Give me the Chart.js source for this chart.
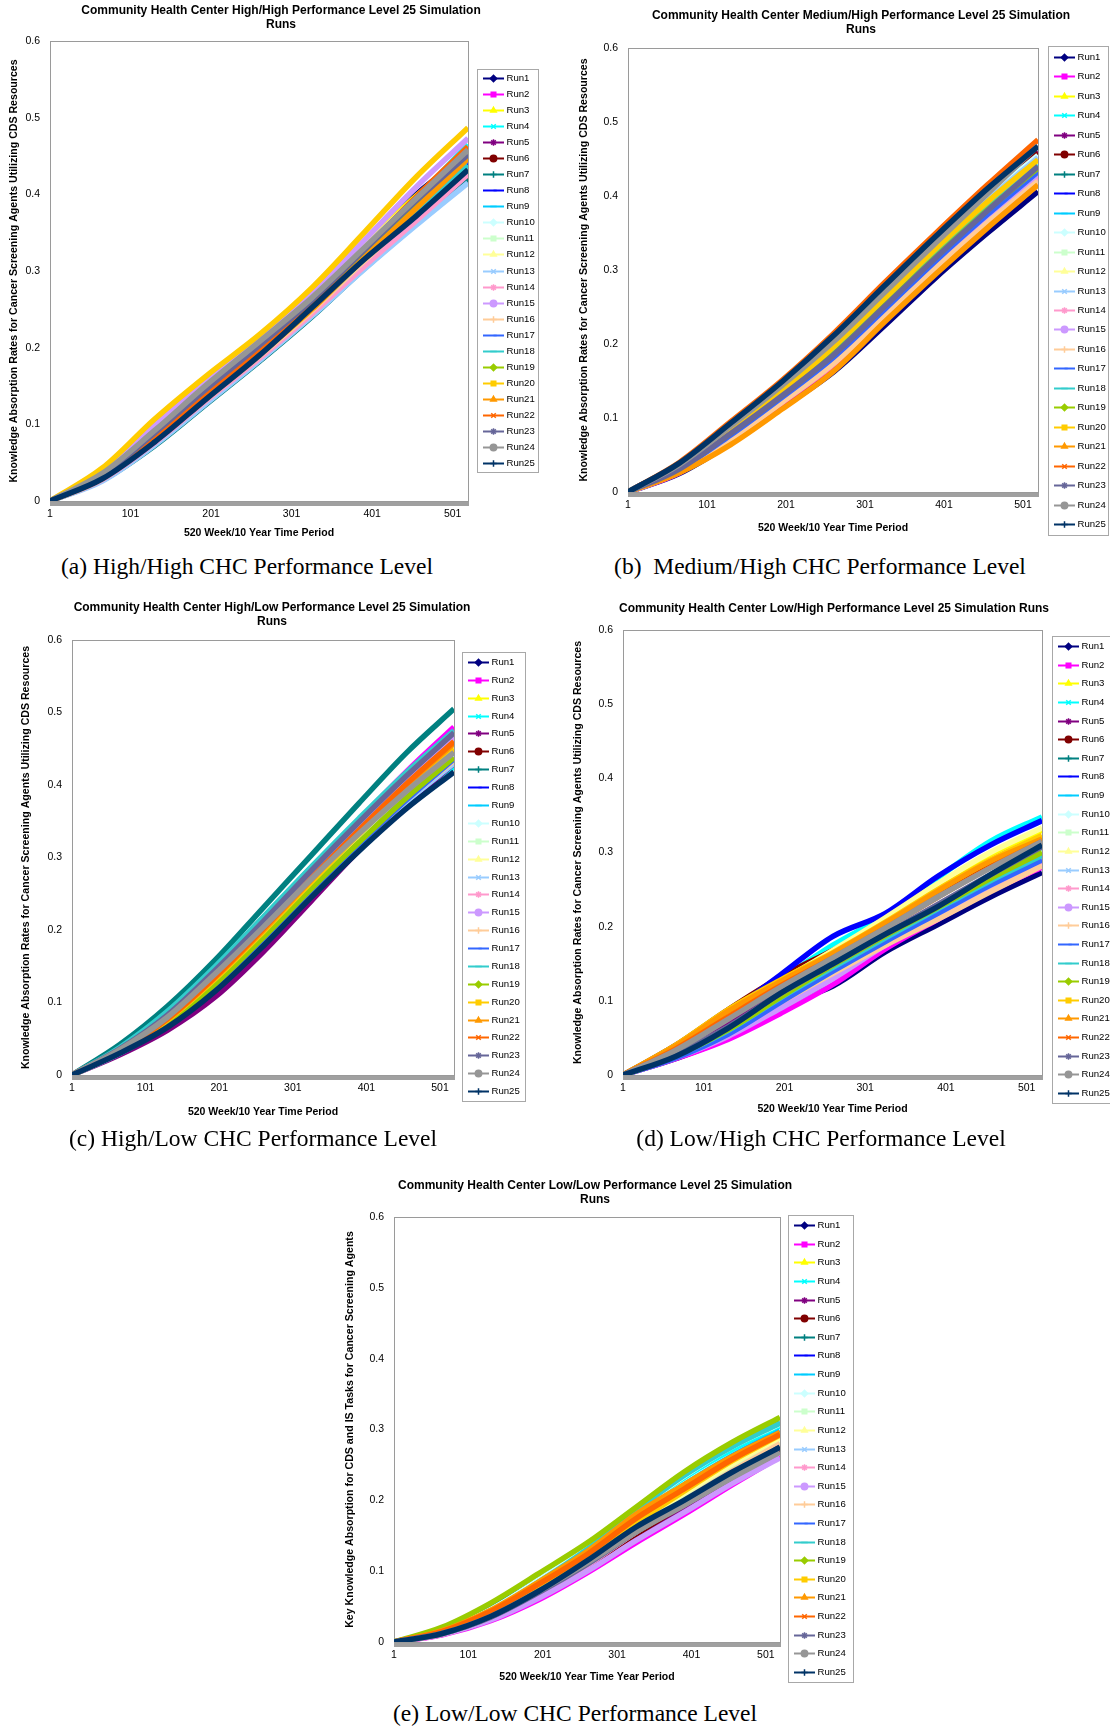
<!DOCTYPE html>
<html>
<head>
<meta charset="utf-8">
<script src="https://cdn.jsdelivr.net/npm/chart.js@4.4.0/dist/chart.umd.min.js"></script>
<style>
  body { margin: 0; background: #fff; }
  #page { position: relative; width: 1110px; height: 1726px; overflow: hidden; background: #fff; }
  canvas { position: absolute; }
  .caption { position: absolute; font-family: "Liberation Serif", "Times New Roman", serif; font-size: 23.5px; color: #000; white-space: pre; transform: translate(-50%, -50%); }
</style>
</head>
<body>
<div id="page">
  <canvas id="chartA" width="550" height="548" style="left:0px;top:0px"></canvas>
  <canvas id="chartB" width="555" height="548" style="left:555px;top:0px"></canvas>
  <canvas id="chartC" width="550" height="530" style="left:0px;top:598px"></canvas>
  <canvas id="chartD" width="555" height="530" style="left:555px;top:598px"></canvas>
  <canvas id="chartE" width="540" height="510" style="left:330px;top:1178px"></canvas>
  <div class="caption" style="left:247px;top:566px">(a) High/High CHC Performance Level</div>
  <div class="caption" style="left:820px;top:566px">(b)  Medium/High CHC Performance Level</div>
  <div class="caption" style="left:253px;top:1138px">(c) High/Low CHC Performance Level</div>
  <div class="caption" style="left:821px;top:1138px">(d) Low/High CHC Performance Level</div>
  <div class="caption" style="left:575px;top:1713px">(e) Low/Low CHC Performance Level</div>
</div>
<script>
const weeks = [1, 66, 131, 196, 261, 326, 391, 456, 520];

const runLabels = ['Run1', 'Run2', 'Run3', 'Run4', 'Run5', 'Run6', 'Run7', 'Run8', 'Run9', 'Run10',
    'Run11', 'Run12', 'Run13', 'Run14', 'Run15', 'Run16', 'Run17', 'Run18', 'Run19', 'Run20',
    'Run21', 'Run22', 'Run23', 'Run24', 'Run25'];

const runColors = ['#000080', '#FF00FF', '#FFFF00', '#00FFFF', '#800080', '#800000', '#008080', '#0000FF',
    '#00CCFF', '#CCFFFF', '#CCFFCC', '#FFFF99', '#99CCFF', '#FF99CC', '#CC99FF', '#FFCC99', '#3366FF',
    '#33CCCC', '#99CC00', '#FFCC00', '#FF9900', '#FF6600', '#666699', '#969696', '#003366'];

const runMarkers = ['rectRot', 'rect', 'triangle', 'crossRot', 'star', 'circle', 'cross', 'dash', 'line',
    'rectRot', 'rect', 'triangle', 'crossRot', 'star', 'circle', 'cross', 'dash', 'line',
    'rectRot', 'rect', 'triangle', 'crossRot', 'star', 'circle', 'cross'];

const xTickLabels = [1, 101, 201, 301, 401, 501];

// (a) High/High
const highHigh = [
    [0, 0.034, 0.088, 0.145, 0.202, 0.262, 0.330, 0.400, 0.452],
    [0, 0.030, 0.079, 0.133, 0.188, 0.247, 0.312, 0.372, 0.428],
    [0, 0.038, 0.097, 0.157, 0.212, 0.270, 0.335, 0.398, 0.455],
    [0, 0.036, 0.100, 0.154, 0.210, 0.268, 0.330, 0.395, 0.465],
    [0, 0.030, 0.080, 0.137, 0.193, 0.252, 0.317, 0.380, 0.440],
    [0, 0.028, 0.074, 0.130, 0.183, 0.243, 0.305, 0.368, 0.425],
    [0, 0.027, 0.072, 0.127, 0.182, 0.240, 0.303, 0.362, 0.420],
    [0, 0.031, 0.082, 0.138, 0.194, 0.253, 0.318, 0.382, 0.443],
    [0, 0.030, 0.079, 0.135, 0.190, 0.250, 0.314, 0.376, 0.436],
    [0, 0.029, 0.077, 0.131, 0.187, 0.245, 0.309, 0.370, 0.430],
    [0, 0.033, 0.086, 0.143, 0.198, 0.256, 0.322, 0.385, 0.447],
    [0, 0.037, 0.095, 0.152, 0.207, 0.267, 0.332, 0.396, 0.457],
    [0, 0.026, 0.073, 0.128, 0.183, 0.241, 0.302, 0.360, 0.415],
    [0, 0.028, 0.076, 0.132, 0.186, 0.244, 0.306, 0.366, 0.426],
    [0, 0.040, 0.100, 0.158, 0.212, 0.272, 0.340, 0.410, 0.473],
    [0, 0.029, 0.078, 0.134, 0.189, 0.248, 0.313, 0.375, 0.435],
    [0, 0.032, 0.084, 0.140, 0.195, 0.254, 0.320, 0.384, 0.445],
    [0, 0.031, 0.081, 0.137, 0.192, 0.251, 0.316, 0.378, 0.438],
    [0, 0.034, 0.087, 0.144, 0.199, 0.258, 0.324, 0.389, 0.450],
    [0, 0.043, 0.107, 0.164, 0.217, 0.278, 0.350, 0.423, 0.487],
    [0, 0.030, 0.079, 0.135, 0.191, 0.250, 0.317, 0.382, 0.447],
    [0, 0.032, 0.085, 0.142, 0.199, 0.260, 0.328, 0.397, 0.462],
    [0, 0.034, 0.089, 0.147, 0.203, 0.262, 0.327, 0.392, 0.452],
    [0, 0.036, 0.092, 0.152, 0.208, 0.265, 0.330, 0.395, 0.458],
    [0, 0.029, 0.077, 0.134, 0.190, 0.252, 0.315, 0.372, 0.432]
];

// (b) Medium/High
const mediumHigh = [
    [0, 0.025, 0.066, 0.114, 0.162, 0.225, 0.290, 0.350, 0.406],
    [0, 0.026, 0.070, 0.120, 0.172, 0.238, 0.302, 0.362, 0.418],
    [0, 0.034, 0.084, 0.138, 0.195, 0.262, 0.328, 0.390, 0.450],
    [0, 0.032, 0.080, 0.131, 0.186, 0.251, 0.317, 0.380, 0.435],
    [0, 0.037, 0.089, 0.144, 0.203, 0.270, 0.337, 0.401, 0.460],
    [0, 0.038, 0.090, 0.145, 0.205, 0.272, 0.340, 0.403, 0.458],
    [0, 0.031, 0.078, 0.129, 0.184, 0.249, 0.315, 0.377, 0.432],
    [0, 0.033, 0.081, 0.133, 0.189, 0.255, 0.321, 0.384, 0.440],
    [0, 0.032, 0.079, 0.130, 0.185, 0.250, 0.316, 0.379, 0.436],
    [0, 0.036, 0.088, 0.142, 0.200, 0.268, 0.335, 0.398, 0.455],
    [0, 0.030, 0.076, 0.126, 0.180, 0.245, 0.310, 0.372, 0.428],
    [0, 0.034, 0.083, 0.136, 0.193, 0.260, 0.326, 0.389, 0.448],
    [0, 0.035, 0.086, 0.140, 0.198, 0.265, 0.331, 0.394, 0.452],
    [0, 0.028, 0.074, 0.124, 0.177, 0.243, 0.308, 0.369, 0.425],
    [0, 0.029, 0.075, 0.126, 0.179, 0.245, 0.311, 0.373, 0.430],
    [0, 0.027, 0.071, 0.121, 0.173, 0.238, 0.303, 0.364, 0.420],
    [0, 0.031, 0.077, 0.128, 0.182, 0.247, 0.313, 0.375, 0.433],
    [0, 0.033, 0.082, 0.134, 0.190, 0.256, 0.322, 0.385, 0.442],
    [0, 0.032, 0.080, 0.131, 0.186, 0.252, 0.318, 0.381, 0.438],
    [0, 0.034, 0.084, 0.137, 0.196, 0.262, 0.329, 0.392, 0.449],
    [0, 0.026, 0.064, 0.112, 0.163, 0.230, 0.295, 0.357, 0.415],
    [0, 0.040, 0.095, 0.151, 0.214, 0.283, 0.350, 0.415, 0.476],
    [0, 0.031, 0.079, 0.130, 0.185, 0.251, 0.317, 0.380, 0.440],
    [0, 0.037, 0.089, 0.144, 0.203, 0.270, 0.337, 0.403, 0.468],
    [0, 0.039, 0.093, 0.149, 0.211, 0.279, 0.346, 0.410, 0.467]
];

// (c) High/Low
const highLow = [
    [0, 0.036, 0.084, 0.146, 0.214, 0.286, 0.350, 0.414, 0.470],
    [0, 0.037, 0.086, 0.148, 0.215, 0.285, 0.352, 0.419, 0.480],
    [0, 0.031, 0.070, 0.124, 0.188, 0.256, 0.321, 0.383, 0.437],
    [0, 0.031, 0.070, 0.122, 0.185, 0.252, 0.316, 0.374, 0.425],
    [0, 0.028, 0.062, 0.108, 0.170, 0.240, 0.310, 0.373, 0.430],
    [0, 0.033, 0.075, 0.130, 0.195, 0.263, 0.328, 0.390, 0.445],
    [0, 0.042, 0.095, 0.159, 0.231, 0.303, 0.375, 0.445, 0.505],
    [0, 0.031, 0.070, 0.120, 0.190, 0.258, 0.322, 0.383, 0.438],
    [0, 0.032, 0.072, 0.125, 0.188, 0.256, 0.320, 0.381, 0.435],
    [0, 0.033, 0.074, 0.128, 0.192, 0.260, 0.326, 0.388, 0.442],
    [0, 0.032, 0.071, 0.124, 0.187, 0.254, 0.319, 0.380, 0.433],
    [0, 0.031, 0.069, 0.121, 0.184, 0.252, 0.318, 0.380, 0.432],
    [0, 0.030, 0.068, 0.119, 0.182, 0.250, 0.315, 0.377, 0.430],
    [0, 0.036, 0.084, 0.147, 0.212, 0.280, 0.345, 0.410, 0.468],
    [0, 0.035, 0.082, 0.142, 0.208, 0.277, 0.343, 0.408, 0.466],
    [0, 0.031, 0.070, 0.123, 0.186, 0.254, 0.318, 0.380, 0.434],
    [0, 0.032, 0.070, 0.121, 0.184, 0.252, 0.318, 0.380, 0.436],
    [0, 0.038, 0.088, 0.150, 0.218, 0.287, 0.354, 0.418, 0.475],
    [0, 0.032, 0.072, 0.126, 0.190, 0.257, 0.321, 0.383, 0.438],
    [0, 0.033, 0.076, 0.133, 0.198, 0.266, 0.332, 0.395, 0.450],
    [0, 0.033, 0.077, 0.135, 0.200, 0.269, 0.336, 0.400, 0.457],
    [0, 0.034, 0.078, 0.136, 0.202, 0.271, 0.338, 0.402, 0.460],
    [0, 0.036, 0.083, 0.145, 0.212, 0.282, 0.349, 0.413, 0.472],
    [0, 0.035, 0.080, 0.140, 0.204, 0.270, 0.333, 0.392, 0.445],
    [0, 0.030, 0.066, 0.116, 0.178, 0.245, 0.309, 0.368, 0.418]
];

// (d) Low/High
const lowHigh = [
    [0, 0.022, 0.050, 0.093, 0.120, 0.166, 0.203, 0.240, 0.273],
    [0, 0.022, 0.048, 0.083, 0.122, 0.170, 0.210, 0.248, 0.280],
    [0, 0.038, 0.087, 0.128, 0.166, 0.210, 0.255, 0.298, 0.330],
    [0, 0.034, 0.080, 0.128, 0.175, 0.215, 0.266, 0.315, 0.348],
    [0, 0.030, 0.072, 0.118, 0.160, 0.200, 0.245, 0.285, 0.320],
    [0, 0.040, 0.088, 0.132, 0.168, 0.205, 0.245, 0.283, 0.318],
    [0, 0.027, 0.064, 0.108, 0.148, 0.188, 0.228, 0.268, 0.305],
    [0, 0.036, 0.083, 0.135, 0.187, 0.218, 0.268, 0.310, 0.343],
    [0, 0.026, 0.060, 0.103, 0.143, 0.182, 0.222, 0.260, 0.295],
    [0, 0.027, 0.062, 0.106, 0.146, 0.186, 0.226, 0.264, 0.300],
    [0, 0.028, 0.064, 0.108, 0.147, 0.188, 0.228, 0.266, 0.302],
    [0, 0.035, 0.082, 0.126, 0.168, 0.212, 0.258, 0.300, 0.333],
    [0, 0.025, 0.058, 0.100, 0.140, 0.180, 0.218, 0.255, 0.290],
    [0, 0.024, 0.055, 0.096, 0.135, 0.176, 0.215, 0.253, 0.288],
    [0, 0.023, 0.052, 0.090, 0.130, 0.175, 0.215, 0.255, 0.292],
    [0, 0.025, 0.057, 0.098, 0.137, 0.175, 0.210, 0.247, 0.282],
    [0, 0.023, 0.055, 0.098, 0.140, 0.180, 0.218, 0.256, 0.290],
    [0, 0.026, 0.060, 0.104, 0.145, 0.185, 0.224, 0.262, 0.296],
    [0, 0.026, 0.061, 0.105, 0.148, 0.188, 0.226, 0.265, 0.300],
    [0, 0.040, 0.088, 0.128, 0.165, 0.206, 0.250, 0.290, 0.323],
    [0, 0.039, 0.086, 0.126, 0.164, 0.205, 0.248, 0.288, 0.318],
    [0, 0.035, 0.078, 0.120, 0.158, 0.198, 0.240, 0.280, 0.315],
    [0, 0.028, 0.065, 0.110, 0.150, 0.190, 0.230, 0.270, 0.308],
    [0, 0.033, 0.075, 0.118, 0.158, 0.198, 0.240, 0.279, 0.315],
    [0, 0.025, 0.063, 0.110, 0.150, 0.190, 0.227, 0.270, 0.310]
];

// (e) Low/Low
const lowLow = [
    [0, 0.013, 0.037, 0.073, 0.114, 0.158, 0.198, 0.237, 0.272],
    [0, 0.010, 0.030, 0.060, 0.098, 0.140, 0.180, 0.222, 0.262],
    [0, 0.014, 0.037, 0.075, 0.120, 0.168, 0.212, 0.255, 0.290],
    [0, 0.015, 0.043, 0.083, 0.130, 0.183, 0.232, 0.272, 0.305],
    [0, 0.011, 0.032, 0.063, 0.104, 0.148, 0.190, 0.232, 0.270],
    [0, 0.012, 0.034, 0.067, 0.108, 0.152, 0.194, 0.235, 0.273],
    [0, 0.017, 0.048, 0.088, 0.135, 0.187, 0.238, 0.278, 0.310],
    [0, 0.013, 0.038, 0.075, 0.120, 0.166, 0.206, 0.245, 0.280],
    [0, 0.014, 0.040, 0.079, 0.125, 0.176, 0.222, 0.263, 0.298],
    [0, 0.016, 0.046, 0.088, 0.133, 0.184, 0.234, 0.276, 0.308],
    [0, 0.013, 0.038, 0.076, 0.118, 0.164, 0.205, 0.246, 0.282],
    [0, 0.014, 0.040, 0.078, 0.120, 0.167, 0.210, 0.252, 0.288],
    [0, 0.012, 0.035, 0.070, 0.110, 0.155, 0.196, 0.238, 0.276],
    [0, 0.011, 0.033, 0.066, 0.108, 0.155, 0.197, 0.240, 0.278],
    [0, 0.011, 0.031, 0.062, 0.100, 0.143, 0.183, 0.224, 0.260],
    [0, 0.012, 0.036, 0.072, 0.113, 0.158, 0.200, 0.242, 0.280],
    [0, 0.013, 0.039, 0.078, 0.124, 0.175, 0.220, 0.262, 0.296],
    [0, 0.015, 0.044, 0.085, 0.131, 0.185, 0.235, 0.276, 0.309],
    [0, 0.021, 0.055, 0.097, 0.140, 0.190, 0.240, 0.282, 0.317],
    [0, 0.013, 0.036, 0.074, 0.118, 0.168, 0.213, 0.256, 0.292],
    [0, 0.016, 0.045, 0.085, 0.128, 0.180, 0.222, 0.262, 0.296],
    [0, 0.015, 0.043, 0.082, 0.124, 0.174, 0.216, 0.258, 0.293],
    [0, 0.012, 0.035, 0.070, 0.110, 0.155, 0.195, 0.236, 0.275],
    [0, 0.012, 0.036, 0.072, 0.112, 0.155, 0.193, 0.232, 0.268],
    [0, 0.012, 0.036, 0.072, 0.115, 0.162, 0.200, 0.240, 0.275]
];

const FONT = '"Liberation Sans", Arial, sans-serif';

function decorPlugin(cfg) {
    return {
        id: 'decor',
        beforeDatasetsDraw: function(chart) {
            let a = chart.chartArea;
            let ctx = chart.ctx;
            ctx.save();
            ctx.strokeStyle = '#9a9a9a';
            ctx.lineWidth = 1;
            ctx.strokeRect(Math.round(a.left) + 0.5, Math.round(a.top) + 0.5,
                Math.round(a.right - a.left), Math.round(a.bottom - a.top));
            ctx.restore();
        },
        afterDraw: function(chart) {
            let ctx = chart.ctx;
            ctx.save();
            // title
            ctx.fillStyle = '#000';
            ctx.font = 'bold 12px ' + FONT;
            ctx.textAlign = 'center';
            ctx.textBaseline = 'middle';
            cfg.title.forEach(function(line, i) {
                ctx.fillText(line, cfg.titleX, cfg.titleY + i * 14);
            });

            // legend box, drawn like the spreadsheet one: line + marker + name
            let lg = cfg.legend;
            ctx.fillStyle = '#fff';
            ctx.fillRect(lg.x, lg.y, lg.w, lg.h);
            ctx.strokeStyle = '#a8a8a8';
            ctx.lineWidth = 1;
            ctx.strokeRect(lg.x + 0.5, lg.y + 0.5, lg.w, lg.h);
            let n = chart.data.datasets.length;
            let pad = lg.h * 0.022;
            let step = (lg.h - 2 * pad) / (n - 1);
            chart.data.datasets.forEach(function(ds, i) {
                let cy = Math.round(lg.y + pad + i * step) + 0.5;
                ctx.strokeStyle = ds.borderColor;
                ctx.lineWidth = 2;
                ctx.beginPath();
                ctx.moveTo(lg.x + 6, cy);
                ctx.lineTo(lg.x + 27, cy);
                ctx.stroke();
                ctx.fillStyle = ds.borderColor;
                ctx.strokeStyle = ds.borderColor;
                ctx.lineWidth = 1.5;
                if (Chart.helpers && Chart.helpers.drawPoint) {
                    Chart.helpers.drawPoint(ctx, {pointStyle: ds.markerStyle, radius: 3.2, rotation: 0, borderWidth: 1.5}, lg.x + 16.5, cy);
                }
                ctx.fillStyle = '#000';
                ctx.font = '9.6px ' + FONT;
                ctx.textAlign = 'left';
                ctx.textBaseline = 'middle';
                ctx.fillText(ds.label, lg.x + 29.5, cy);
            });
            ctx.restore();
        }
    };
}

function makeChart(id, runs, cfg) {
    let datasets = runs.map(function(run, i) {
        return {
            label: runLabels[i],
            data: weeks.map(function(w, j) { return {x: w, y: run[j]}; }),
            borderColor: runColors[i],
            backgroundColor: runColors[i],
            markerStyle: runMarkers[i],
            borderWidth: 5.5,
            pointRadius: 0,
            cubicInterpolationMode: 'monotone',
            order: -i
        };
    });

    new Chart(document.getElementById(id).getContext('2d'), {
        type: 'line',
        data: { datasets: datasets },
        options: {
            responsive: false,
            animation: false,
            layout: { padding: cfg.padding },
            plugins: {
                legend: { display: false },
                title: { display: false },
                tooltip: { enabled: false }
            },
            scales: {
                x: {
                    type: 'linear',
                    min: 1,
                    max: 520,
                    afterBuildTicks: function(scale) {
                        // one tick mark per week like the spreadsheet category axis
                        let t = [];
                        for (let w = 1; w <= 520; w++) t.push({value: w});
                        scale.ticks = t;
                    },
                    afterFit: function(scale) { scale.height = cfg.xh; },
                    ticks: {
                        autoSkip: false,
                        maxRotation: 0,
                        padding: 2,
                        color: '#000',
                        font: { family: FONT, size: 10.5 },
                        callback: function(v) { return xTickLabels.indexOf(v) >= 0 ? String(v) : ''; }
                    },
                    grid: { display: true, drawOnChartArea: false, tickLength: 5, color: '#a0a0a0' },
                    border: { color: '#8c8c8c' },
                    title: {
                        display: true,
                        text: cfg.xTitle,
                        color: '#000',
                        font: { family: FONT, size: 10.5, weight: 'bold' },
                        padding: { top: 4, bottom: 4 }
                    }
                },
                y: {
                    min: 0,
                    max: 0.6,
                    afterFit: function(scale) { scale.width = cfg.yw; },
                    ticks: {
                        stepSize: 0.1,
                        padding: 10,
                        color: '#000',
                        font: { family: FONT, size: 10.5 },
                        callback: function(v) { return v === 0 ? '0' : v.toFixed(1); }
                    },
                    grid: { display: false, drawTicks: false },
                    border: { color: '#8c8c8c' },
                    title: {
                        display: true,
                        text: cfg.yTitle,
                        color: '#000',
                        font: { family: FONT, size: 10.6, weight: 'bold' },
                        padding: { top: 2, bottom: 2 }
                    }
                }
            }
        },
        plugins: [decorPlugin(cfg)]
    });
}

const yTitleKA = 'Knowledge Absorption Rates for Cancer Screening Agents Utilizing CDS Resources';

makeChart('chartA', highHigh, {
    padding: { top: 41, left: 6, right: 82, bottom: 5 }, yw: 44, xh: 42,
    title: ['Community Health Center High/High Performance Level 25 Simulation', 'Runs'],
    titleX: 281, titleY: 11,
    legend: { x: 477, y: 69, w: 61, h: 403 },
    xTitle: '520 Week/10 Year Time Period', yTitle: yTitleKA
});

makeChart('chartB', mediumHigh, {
    padding: { top: 48, left: 21, right: 72, bottom: 10 }, yw: 52, xh: 46,
    title: ['Community Health Center Medium/High Performance Level 25 Simulation', 'Runs'],
    titleX: 306, titleY: 16,
    legend: { x: 493, y: 46, w: 60, h: 489 },
    xTitle: '520 Week/10 Year Time Period', yTitle: yTitleKA
});

makeChart('chartC', highLow, {
    padding: { top: 42, left: 18, right: 96, bottom: 6 }, yw: 54, xh: 47,
    title: ['Community Health Center High/Low Performance Level 25 Simulation', 'Runs'],
    titleX: 272, titleY: 10,
    legend: { x: 462, y: 54, w: 63, h: 449 },
    xTitle: '520 Week/10 Year Time Period', yTitle: yTitleKA
});

makeChart('chartD', lowHigh, {
    padding: { top: 32, left: 15, right: 68, bottom: 9 }, yw: 53, xh: 44,
    title: ['Community Health Center Low/High Performance Level 25 Simulation Runs'],
    titleX: 279, titleY: 11,
    legend: { x: 497, y: 38, w: 70, h: 467 },
    xTitle: '520 Week/10 Year Time Period', yTitle: yTitleKA
});

makeChart('chartE', lowLow, {
    padding: { top: 39, left: 12, right: 90, bottom: 1 }, yw: 52, xh: 45,
    title: ['Community Health Center Low/Low Performance Level 25 Simulation', 'Runs'],
    titleX: 265, titleY: 8,
    legend: { x: 458, y: 37, w: 65, h: 467 },
    xTitle: '520 Week/10 Year Time Year Period',
    yTitle: 'Key Knowledge Absorption for CDS and IS Tasks for Cancer Screening Agents'
});
</script>
</body>
</html>
